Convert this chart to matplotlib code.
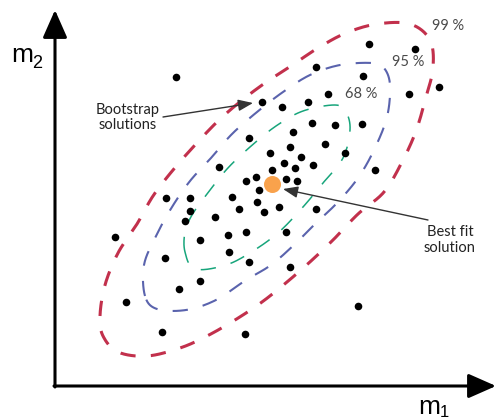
import numpy as np
import matplotlib
matplotlib.use("Agg")
import matplotlib.pyplot as plt

plt.rcParams['lines.scale_dashes'] = False

# bootstrap solutions (m1, m2)
boot_m1 = [121, 314, 360, 261, 308, 354, 384, 207, 227, 253, 273, 257, 280, 307,
           194, 238, 235, 270, 290, 215, 246, 229, 240, 258, 217, 320, 164, 191,
           201, 231, 242, 204, 202, 224, 261, 177, 184, 209, 111, 135, 135, 130,
           160, 60, 145, 173, 191, 231, 174, 110, 145, 124, 71, 107, 190, 194,
           235, 303]
boot_m2 = [309, 342, 337, 319, 310, 292, 299, 284, 279, 284, 292, 263, 261, 262,
           248, 254, 239, 242, 233, 233, 229, 223, 218, 221, 216, 216, 219, 205,
           209, 207, 205, 196, 184, 179, 177, 189, 177, 174, 188, 188, 175, 165,
           169, 149, 146, 151, 154, 154, 134, 128, 105, 97, 84, 54, 52, 124,
           119, 80]

best_m1, best_m2 = 217, 202

# confidence contours, outline points
c99_m1 = [45, 50, 63, 82, 98, 118, 140, 163, 186, 210, 236, 263, 291, 322, 355,
          375, 378, 371, 361, 347, 329, 303, 279, 256, 232, 207, 180, 152, 125,
          92, 63, 48]
c99_m2 = [70, 101, 133, 162, 190, 216, 241, 265, 285, 303, 320, 338, 353, 362, 362,
          346, 318, 289, 255, 224, 194, 172, 147, 125, 104, 84, 66, 50, 38,
          30, 34, 50]
c95_m1 = [90, 89, 101, 117, 135, 156, 177, 202, 228, 255, 285, 317, 329, 335, 332,
          319, 303, 282, 261, 240, 216, 191, 161, 131, 102]
c95_m2 = [90, 121, 150, 179, 205, 228, 252, 274, 294, 311, 321, 323, 318, 301, 269,
          236, 208, 183, 163, 142, 121, 106, 86, 76, 77]
c68_m1 = [130, 130, 137, 152, 172, 195, 221, 248, 280, 291, 295, 288, 268, 248,
          224, 198, 171, 140]
c68_m2 = [134, 154, 171, 192, 217, 239, 260, 275, 281, 274, 256, 228, 203, 179,
          154, 135, 121, 117]

levels = ['99 %', '95 %', '68 %']
level_pos = [(393, 360), (353, 324), (306, 292)]


def closed_curve(xs, ys, n=16):
    # Catmull-Rom through the outline, closed
    p = np.column_stack([xs, ys]).astype(float)
    k = len(p)
    out = []
    t = np.linspace(0, 1, n, endpoint=False)[:, None]
    for i in range(k):
        p0, p1, p2, p3 = p[i - 1], p[i], p[(i + 1) % k], p[(i + 2) % k]
        seg = 0.5 * (2 * p1 + (-p0 + p2) * t + (2 * p0 - 5 * p1 + 4 * p2 - p3) * t ** 2
                     + (-p0 + 3 * p1 - 3 * p2 + p3) * t ** 3)
        out.append(seg)
    out = np.vstack(out + [p[:1]])
    return out[:, 0], out[:, 1]


fig = plt.figure(figsize=(4.96, 4.19), dpi=100)
ax = fig.add_axes([0, 0, 1, 1])
ax.set_xlim(-55, 441)
ax.set_ylim(-33, 386)
ax.axis('off')

contours = [(c99_m1, c99_m2, '#c2304c', 2.2),
            (c95_m1, c95_m2, '#5a63ad', 1.5),
            (c68_m1, c68_m2, '#17a57b', 1.1)]
for xs, ys, col, lw in contours:
    cx, cy = closed_curve(xs, ys)
    ax.plot(cx, cy, color=col, lw=lw, linestyle=(0, (11, 11)), solid_capstyle='butt')

ax.scatter(boot_m1, boot_m2, s=30, color='black', zorder=3, linewidths=0)
ax.scatter([best_m1], [best_m2], s=150, color='#f9a24c', zorder=4, linewidths=0)

for lab, (x, y) in zip(levels, level_pos):
    ax.text(x, y, lab, ha='center', va='center', fontsize=10.5,
            family='Lato', color='#4a4a4a')

# axes with arrow heads
arrow = dict(arrowstyle='-|>,head_length=1.7,head_width=0.75', color='black',
             lw=2.2, mutation_scale=10, shrinkA=0, shrinkB=0)
ax.annotate('', xy=(441, 0), xytext=(-1, 0), arrowprops=arrow)
ax.annotate('', xy=(0, 376), xytext=(0, -1), arrowprops=arrow)

ax.text(-44, 324, 'm', fontsize=19, family='Liberation Sans', va='baseline')
ax.text(-23, 318, '2', fontsize=13, family='Liberation Sans', va='baseline')
ax.text(363, -28, 'm', fontsize=19, family='Liberation Sans', va='baseline')
ax.text(385, -31, '1', fontsize=12, family='Liberation Sans', va='baseline')

small = dict(arrowstyle='-|>,head_length=0.9,head_width=0.35', color='#333333',
             lw=1.0, mutation_scale=10, shrinkA=0, shrinkB=0)
ax.annotate('', xy=(198, 283), xytext=(108, 269), arrowprops=small)
ax.text(72.5, 268.5, 'Bootstrap\nsolutions', ha='center', va='center',
        fontsize=10.5, family='Lato', linespacing=1.15, color='#222222')
ax.annotate('', xy=(228, 197), xytext=(373, 166), arrowprops=small)
ax.text(395, 146, 'Best fit\nsolution', ha='center', va='center',
        fontsize=10.5, family='Lato', linespacing=1.15, color='#222222')

fig.savefig('out.png', dpi=100)
